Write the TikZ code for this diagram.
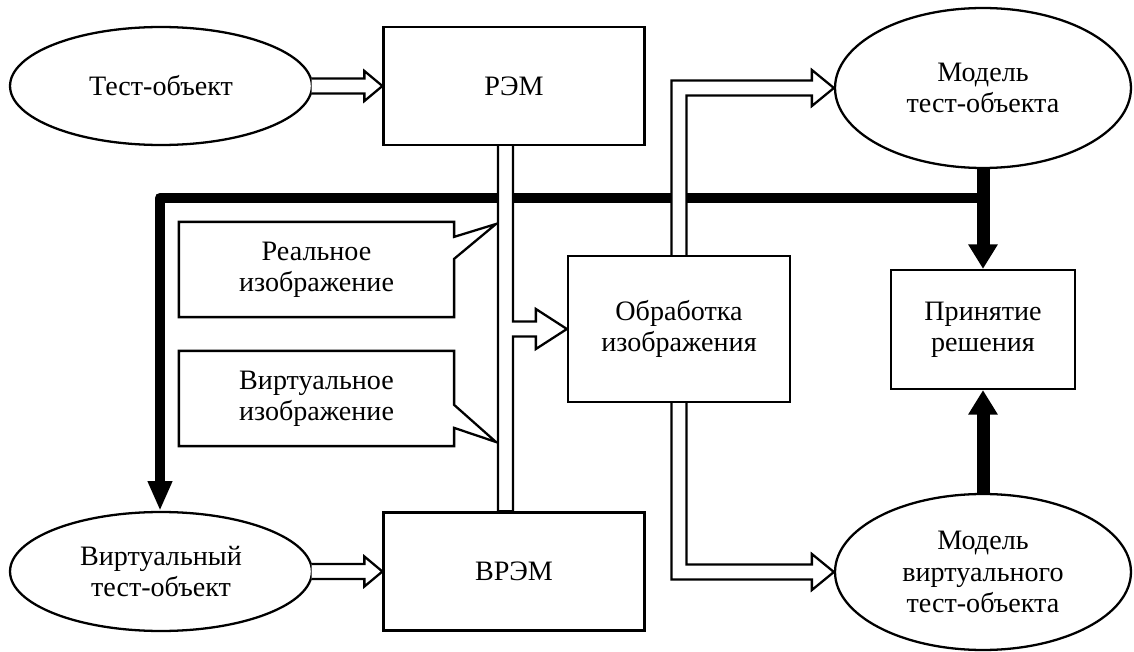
\documentclass[tikz,border=0pt]{standalone}
\usepackage{fontspec}
\setmainfont{Liberation Serif}
\usetikzlibrary{arrows.meta, shapes.geometric, calc}

\begin{document}
\begin{tikzpicture}[x=0.02cm, y=-0.02cm, line width=1.3pt,
	every node/.style={font=\fontsize{16}{17.8}\selectfont, align=center, inner sep=0pt},
	oval/.style={draw, ellipse},
	box/.style={draw, rectangle},
	hollow/.style={draw, fill=white, line join=miter},
	bus/.style={line width=6.2pt, line join=round, -{Triangle[length=17pt,width=13pt]}},
	fatbus/.style={line width=7.4pt, -{Triangle[length=14pt,width=16pt]}}]
	\useasboundingbox (0,0) rectangle (1134,652);
	\node[oval, minimum width=6.04cm, minimum height=2.36cm] (tobj) at (161,86) {Тест-объект};
	\node[box, minimum width=5.22cm, minimum height=2.36cm] (rem) at (514,86) {РЭМ};
	\node[oval, minimum width=5.92cm, minimum height=3.2cm] (mt) at (983,88) {Модель\\тест-объекта};
	\node[box, minimum width=4.44cm, minimum height=2.92cm] (proc) at (679,329) {Обработка\\изображения};
	\node[box, minimum width=3.68cm, minimum height=2.38cm] (dec) at (983,329.5) {Принятие\\решения};
	\node[minimum width=5.46cm, minimum height=1.86cm] (real) at (316.5,269.5) {Реальное\\изображение};
	\node[minimum width=5.46cm, minimum height=1.86cm] (virt) at (316.5,398.5) {Виртуальное\\изображение};
	\node[oval, minimum width=6.04cm, minimum height=2.38cm] (vobj) at (161,571.5) {Виртуальный\\тест-объект};
	\node[box, minimum width=5.22cm, minimum height=2.36cm] (vrem) at (514,571.5) {ВРЭМ};
	\node[oval, minimum width=5.92cm, minimum height=3.12cm] (mvt) at (983,572) {Модель\\виртуального\\тест-объекта};
	\coordinate (bend) at (160,198);
	\coordinate (realtip) at (496,224);
	\coordinate (virttip) at (496,442);

	\draw (real.north west) -- (real.north east) -- ++(0,15) -- (realtip) -- ($(real.north east)+(0,37)$) -- (real.south east) -- (real.south west) -- cycle;
	\draw (virt.north west) -- (virt.north east) -- ++(0,54) -- (virttip) -- ($(virt.north east)+(0,77)$) -- (virt.south east) -- (virt.south west) -- cycle;

	\draw[bus] (mt.south |- bend) -- (bend) -- (bend |- vobj.north);
	\draw[fatbus] (mt.south) -- (dec.north);
	\draw[fatbus] (mvt.north) -- (dec.south);

	\filldraw[hollow] ($(tobj.east)+(-1.5,-7.5)$) -- ($(rem.west)+(-18,-7.5)$) -- ++(0,-7.5) -- (rem.west) -- ($(rem.west)+(-18,15)$) -- ++(0,-7.5) -- ($(tobj.east)+(-1.5,7.5)$);
	\filldraw[hollow] ($(vobj.east)+(-1.5,-7.5)$) -- ($(vrem.west)+(-18,-7.5)$) -- ++(0,-7.5) -- (vrem.west) -- ($(vrem.west)+(-18,15)$) -- ++(0,-7.5) -- ($(vobj.east)+(-1.5,7.5)$);
	\filldraw[hollow] ($(rem.south)+(-16,0)$) -- ($(vrem.north)+(-16,0)$) -- ($(vrem.north)+(-1,0)$) |- ($(proc.west)+(-31,7.5)$) -- ++(0,12.5) -- (proc.west) -- ($(proc.west)+(-31,-20)$) -- ++(0,12.5) -| ($(rem.south)+(-1,0)$);
	\filldraw[hollow] ($(proc.north)+(-7.5,0)$) |- ($(mt.west)+(-22,-7.5)$) -- ++(0,-10.5) -- (mt.west) -- ($(mt.west)+(-22,18)$) -- ++(0,-10.5) -| ($(proc.north)+(7.5,0)$);
	\filldraw[hollow] ($(proc.south)+(-7.5,0)$) |- ($(mvt.west)+(-22,7.5)$) -- ++(0,10.5) -- (mvt.west) -- ($(mvt.west)+(-22,-18)$) -- ++(0,10.5) -| ($(proc.south)+(7.5,0)$);
\end{tikzpicture}
\end{document}
